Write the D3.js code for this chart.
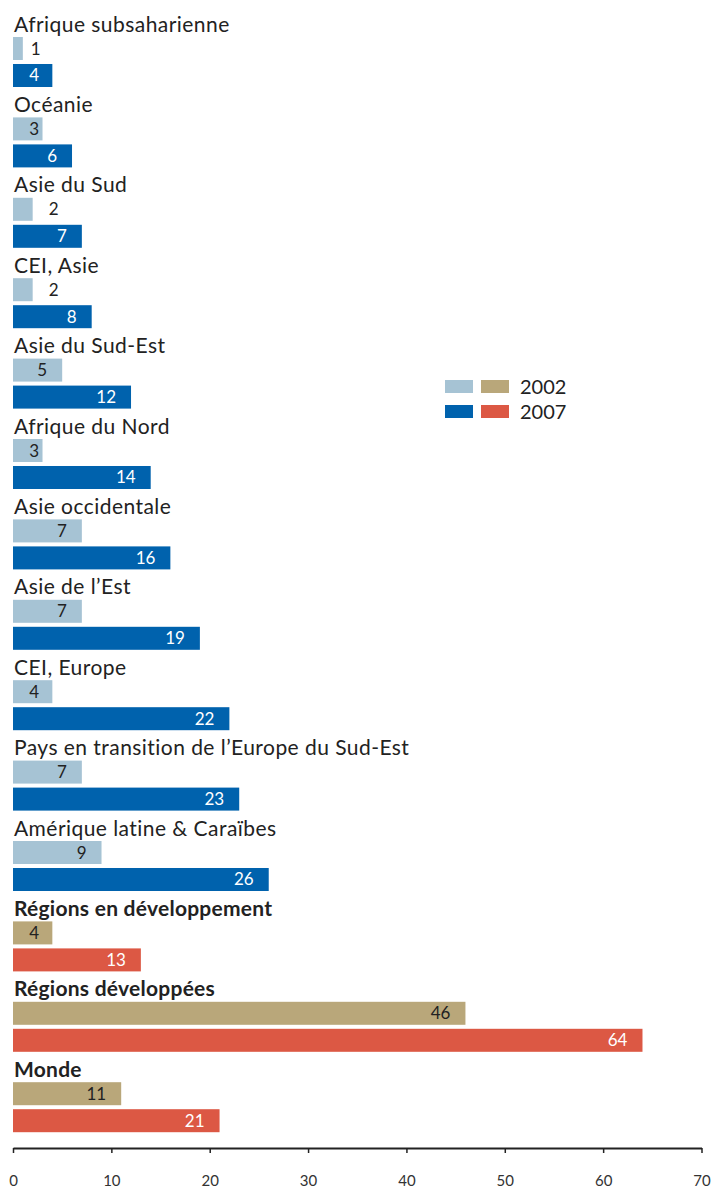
<!DOCTYPE html>
<html>
<head>
<meta charset="utf-8">
<script src="https://cdn.jsdelivr.net/npm/d3@7"></script>
<style>
  html, body { margin: 0; padding: 0; background: #fff; }
  svg { display: block; }
  text { font-family: Lato, "Open Sans", sans-serif; }
</style>
</head>
<body>
<svg id="chart" width="715" height="1189"></svg>
<script>
const categories = [
  "Afrique subsaharienne", "Océanie", "Asie du Sud", "CEI, Asie",
  "Asie du Sud-Est", "Afrique du Nord", "Asie occidentale", "Asie de l’Est",
  "CEI, Europe", "Pays en transition de l’Europe du Sud-Est",
  "Amérique latine & Caraïbes", "Régions en développement",
  "Régions développées", "Monde"
];
const values2002 = [1, 3, 2, 2, 5, 3, 7, 7, 4, 7, 9, 4, 46, 11];
const values2007 = [4, 6, 7, 8, 12, 14, 16, 19, 22, 23, 26, 13, 64, 21];
const aggregates = ["Régions en développement", "Régions développées", "Monde"];
const seriesNames = ["2002", "2007"];
const regionColors = ["#a6c3d4", "#0062ad"];
const aggregateColors = ["#b9a77a", "#dc5844"];
const tickValues = [0, 10, 20, 30, 40, 50, 60, 70];

const svg = d3.select("#chart");

const x = d3.scaleLinear().domain([0, 70]).range([13, 701.5]);
const yGroup = d3.scaleBand().domain(categories).range([8, 8 + 14 * 80.4]).paddingInner(0).paddingOuter(0);
const ySeries = d3.scaleBand().domain(seriesNames).range([29, 79]).paddingInner(0.148).paddingOuter(0);

const data = categories.map((c, i) => ({
  cat: c,
  agg: aggregates.includes(c),
  vals: [values2002[i], values2007[i]]
}));

const groups = svg.selectAll("g.grp").data(data).join("g")
  .attr("class", "grp")
  .attr("transform", d => `translate(0,${yGroup(d.cat)})`);

groups.append("text")
  .attr("x", 14)
  .attr("y", 23.5)
  .attr("fill", "#222")
  .style("font-size", "21px")
  .style("letter-spacing", d => d.agg ? "0.25px" : "0.45px")
  .style("font-weight", d => d.agg ? "700" : "400")
  .text(d => d.cat);

const bars = groups.selectAll("g.bar").data(d => d.vals.map((v, j) => ({v, j, agg: d.agg, s: seriesNames[j]})))
  .join("g").attr("class", "bar");

bars.append("rect")
  .attr("x", x(0))
  .attr("y", d => ySeries(d.s))
  .attr("width", d => x(d.v) - x(0))
  .attr("height", ySeries.bandwidth())
  .attr("fill", d => (d.agg ? aggregateColors : regionColors)[d.j]);

bars.append("text")
  .attr("x", d => d.v < 3 ? x(d.v) + 8 * d.v : Math.max(x(d.v) - 15, 39))
  .attr("y", d => ySeries(d.s) + ySeries.bandwidth() / 2 + 6)
  .attr("text-anchor", d => d.v < 3 ? "start" : "end")
  .attr("fill", d => (d.j === 1 && d.v >= 3) ? "#fff" : "#222")
  .style("font-size", "17px")
  .text(d => d.v);

// axis
const axisG = svg.append("g").attr("transform", "translate(0,1148)");
axisG.call(d3.axisBottom(x).tickValues(tickValues).tickSize(5).tickSizeOuter(0).tickPadding(22))
  .call(g => g.select(".domain").attr("stroke", "#222").attr("stroke-width", 2.2))
  .call(g => g.selectAll(".tick line").attr("stroke", "#222").attr("stroke-width", 1.5))
  .call(g => g.selectAll(".tick text").attr("fill", "#333").style("font-size", "15px")
    .style("font-family", "Lato, 'Open Sans', sans-serif"));

// legend
const legend = svg.append("g").attr("transform", "translate(445,380)");
seriesNames.forEach((s, i) => {
  const row = legend.append("g").attr("transform", `translate(0,${i * 25})`);
  row.append("rect").attr("x", 0).attr("y", 0).attr("width", 28).attr("height", 13).attr("fill", regionColors[i]);
  row.append("rect").attr("x", 36).attr("y", 0).attr("width", 28).attr("height", 13).attr("fill", aggregateColors[i]);
  row.append("text").attr("x", 75).attr("y", 14).attr("fill", "#222").style("font-size", "20px").text(s);
});
</script>
</body>
</html>
